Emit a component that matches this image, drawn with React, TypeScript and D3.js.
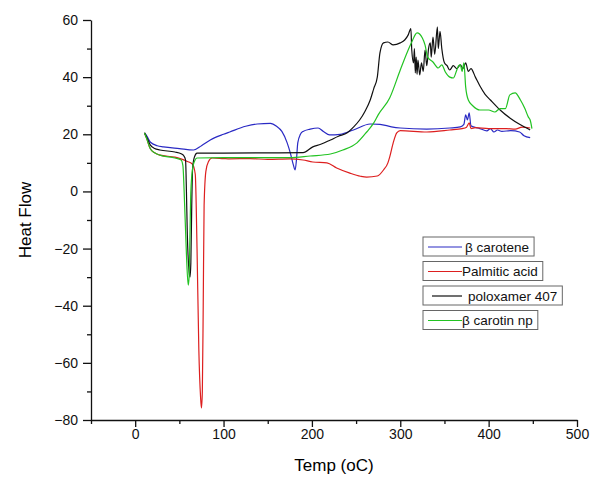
import React, { useEffect, useRef } from 'react';
import * as d3 from 'd3';

// [temp (oC), heat flow]
const betaCarotene: [number, number][] = [
  [10.5, 20.5], [13, 19.5], [17, 17.3], [25, 16], [32, 15.6], [50, 15], [66, 14.5], [75, 16], [85, 18],
  [100, 20], [107, 20.8], [125, 22.8], [138, 23.6], [153, 23.8], [160, 22.8], [166, 21], [172, 17],
  [176, 13], [179, 9.3], [181, 7.5], [182.5, 11], [184, 17], [187, 20], [190, 21], [198, 21.8],
  [207, 22.2], [213, 21], [220, 19.8], [232, 20], [247, 21.5], [266, 23.6], [277, 23.5], [290, 22.6],
  [300, 22.2], [330, 21.8], [356, 22.2], [368, 22.6], [372, 23.5], [374, 26.8], [376, 25], [378, 27.5],
  [380, 23], [384, 22.5], [390, 22], [398, 21.2], [402, 22], [406, 20.8], [410, 21.5], [415, 21],
  [425, 21.3], [435, 20.8], [440, 19.5], [447, 18.8]
];

const palmiticAcid: [number, number][] = [
  [10.5, 20.5], [13, 18.5], [17, 15], [22, 13.5], [28, 12.7], [45, 12], [51, 11.5], [59, 10.5], [65, 9.5],
  [68, 6], [70, -20], [72, -55], [74, -72], [75, -75.8], [76, -70], [77, -40], [78, -5], [80, 7],
  [83, 10.5], [87, 11.7], [100, 11.5], [107, 11.4], [130, 11.5], [150, 11.2], [175, 11.4], [190, 11],
  [201, 10.3], [217, 10], [228, 8.2], [243, 6.4], [255, 5.3], [262, 5], [274, 5.4], [281, 7.5],
  [286, 10], [288, 12], [292, 17], [296, 20.5], [300, 21.3], [330, 20.8], [356, 21.5], [370, 22],
  [375, 22.5], [378, 24], [380, 22], [385, 22.3], [400, 22], [420, 22], [430, 21.8], [438, 22.5], [447, 22.2]
];

const poloxamer407: [number, number][] = [
  [10.5, 20.5], [13, 19], [17, 16.3], [22, 15], [28, 14.5], [45, 13.8], [52, 13.2], [55, 12.5], [57, 11],
  [58, 0], [59, -15], [61, -28], [62, -30], [63, -25], [64, -5], [65, 8], [67, 12], [70, 13.4],
  [100, 13.4], [150, 13.5], [190, 13.6], [201, 15.6], [210, 16.5], [221, 18], [230, 19.3], [240, 20.5],
  [247, 22.5], [254, 25], [260, 28], [266, 32], [270, 36], [274, 40], [277, 48.5], [281, 52], [286, 52.3],
  [292, 51.3], [300, 52], [305, 53], [309, 54.8], [312, 57], [313, 49.5], [315, 45], [316, 50],
  [317, 41.5], [318, 47], [319, 41], [320, 46], [322, 40.8], [324, 45], [326, 42], [328, 49.5],
  [330, 44], [332, 50], [334, 52], [335, 47], [337, 54], [339, 48], [342, 57.6], [343, 50], [345, 56],
  [347, 50], [350, 45], [353, 44], [356, 42.5], [360, 44], [364, 43], [368, 44.3], [371, 43], [374, 45],
  [377, 42], [380, 43], [385, 40], [390, 37], [396, 34], [402, 32], [413, 28.5], [424, 25.7],
  [436, 23.3], [447, 21.5]
];

const betaCarotinNp: [number, number][] = [
  [10.5, 20.5], [13, 18.5], [17, 15], [22, 13.5], [28, 12.7], [45, 11.7], [52, 11], [54, 9], [56, -5],
  [58, -22], [60, -32.8], [61, -30], [62, -15], [63, 0], [65, 8], [67, 10.5], [70, 11.7], [100, 11.8],
  [150, 11.8], [175, 11.8], [198, 12.4], [221, 13.1], [235, 14.5], [251, 17], [262, 20.8], [270, 24],
  [275, 26.8], [288, 32.7], [300, 42.5], [308, 48.8], [313, 52.3], [319, 55.5], [325, 53.7], [328, 51.3],
  [331, 47], [337, 45.3], [343, 43.2], [347, 44.3], [351, 41.8], [356, 40], [360, 39.7], [364, 42.5],
  [366, 44], [368, 44.3], [370, 42], [372, 45], [374, 36.6], [377, 32], [382, 30], [390, 28.5],
  [400, 28.5], [407, 27.8], [413, 29], [419, 29], [424, 33.8], [430, 34.5], [436, 32], [441, 29],
  [445, 26], [447, 25], [449, 22]
];

const seriesNames = ['\u03b2 carotene', 'Palmitic acid', 'poloxamer 407', '\u03b2 carotin np'];
const seriesColors = ['#2a2ac4', '#dd1f1f', '#111111', '#22c322'];
const seriesData = [betaCarotene, palmiticAcid, poloxamer407, betaCarotinNp];

const xTicks = [0, 100, 200, 300, 400, 500];
const xMinorTicks = [-50, 50, 150, 250, 350, 450];
const yTicks = [-80, -60, -40, -20, 0, 20, 40, 60];
const yMinorTicks = [-70, -50, -30, -10, 10, 30, 50];

const W = 592, H = 480;
const FONT = 'Liberation Sans, Arial, sans-serif';

const App = () => {
  const svgRef = useRef<SVGSVGElement>(null);

  useEffect(() => {
    const svg = d3.select(svgRef.current);
    svg.selectAll('*').remove();

    const x = d3.scaleLinear().domain([-50, 500]).range([91, 577]);
    const y = d3.scaleLinear().domain([-80, 60]).range([420, 20]);

    // minor ticks first, no labels
    svg.append('g')
      .attr('transform', 'translate(0,420)')
      .call(d3.axisBottom(x).tickValues(xMinorTicks).tickSize(4).tickFormat(() => '').tickSizeOuter(0))
      .call(g => g.select('.domain').remove());
    svg.append('g')
      .attr('transform', 'translate(91,0)')
      .call(d3.axisLeft(y).tickValues(yMinorTicks).tickSize(4).tickFormat(() => '').tickSizeOuter(0))
      .call(g => g.select('.domain').remove());

    const xAxis = svg.append('g')
      .attr('transform', 'translate(0,420)')
      .call(d3.axisBottom(x).tickValues(xTicks).tickSize(7).tickPadding(2).tickSizeOuter(0));
    const yAxis = svg.append('g')
      .attr('transform', 'translate(91,0)')
      .call(d3.axisLeft(y).tickValues(yTicks).tickSize(8).tickPadding(5).tickSizeOuter(0)
        .tickFormat(d => d3.format('d')(d as number).replace('-', '\u2212')));

    [xAxis, yAxis].forEach(a => {
      a.selectAll('text').style('font-family', FONT).style('font-size', '14px').attr('fill', '#111');
      a.selectAll('line, path').attr('stroke', '#111').attr('stroke-width', 1.3);
    });
    svg.selectAll('g line').attr('stroke', '#111').attr('stroke-width', 1.3);

    const line = d3.line<[number, number]>()
      .x(d => x(d[0]))
      .y(d => y(d[1]))
      .curve(d3.curveMonotoneX);

    seriesData.forEach((data, i) => {
      svg.append('path')
        .datum(data)
        .attr('fill', 'none')
        .attr('stroke', seriesColors[i])
        .attr('stroke-width', 1.2)
        .attr('stroke-linejoin', 'round')
        .attr('d', line);
    });

    // axis titles
    svg.append('text')
      .attr('x', 334).attr('y', 471)
      .attr('text-anchor', 'middle')
      .style('font-family', FONT).style('font-size', '17px')
      .text('Temp (oC)');
    svg.append('text')
      .attr('transform', 'translate(31,220) rotate(-90)')
      .attr('text-anchor', 'middle')
      .style('font-family', FONT).style('font-size', '17px')
      .text('Heat Flow');

    // legend: each entry in its own box
    const legendLeft = 423;
    const textGap = [3, 0, 6, 0];
    seriesNames.forEach((name, i) => {
      const top = 237 + i * 24.5;
      const lg = svg.append('g');
      const rect = lg.append('rect')
        .attr('x', legendLeft).attr('y', top)
        .attr('height', 19)
        .attr('fill', 'white')
        .attr('stroke', '#666').attr('stroke-width', 1);
      lg.append('line')
        .attr('x1', legendLeft + (i === 2 ? 9 : 5)).attr('x2', legendLeft + 39)
        .attr('y1', top + 10).attr('y2', top + 10)
        .attr('stroke', seriesColors[i]).attr('stroke-width', 1.2);
      const t = lg.append('text')
        .attr('x', legendLeft + 39 + textGap[i]).attr('y', top + 14.5)
        .style('font-family', FONT).style('font-size', '13.5px')
        .attr('fill', '#111')
        .text(name);
      const tw = (t.node() as SVGTextElement).getComputedTextLength();
      rect.attr('width', 39 + textGap[i] + tw + 5);
    });
  }, []);

  return (
    <div style={{ position: 'absolute', left: 0, top: 0, background: 'white' }}>
      <svg ref={svgRef} width={W} height={H}></svg>
    </div>
  );
};

export default App;
